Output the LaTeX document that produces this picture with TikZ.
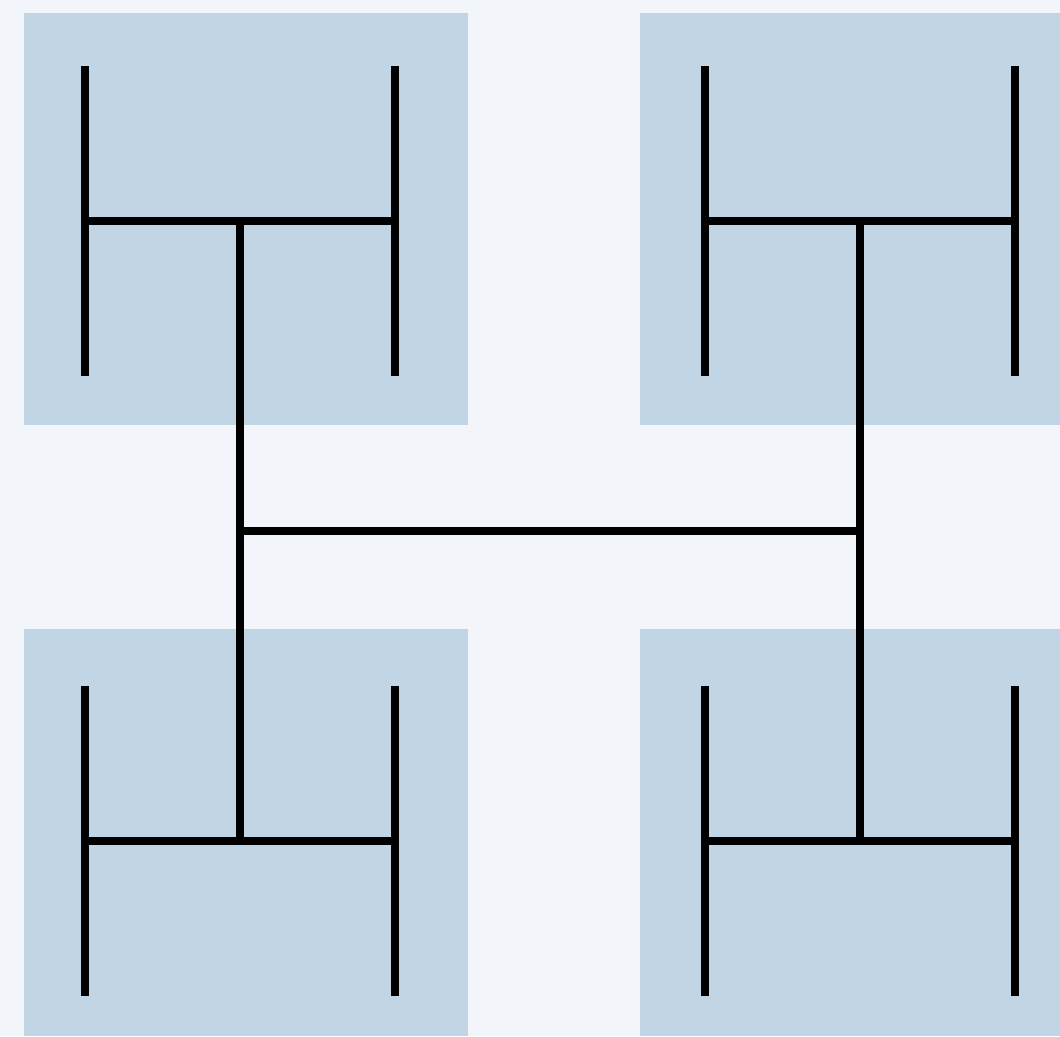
\documentclass[tikz,border=0pt]{standalone}
\definecolor{bgc}{HTML}{F2F6FA}
\definecolor{boxc}{HTML}{C2D5E4}
\begin{document}
\begin{tikzpicture}[x=1pt,y=-1pt,
  wire/.style={line width=8pt,line cap=butt,color=black},
  panel/.style={fill=boxc,draw=none}]
\fill[bgc] (0,0) rectangle (1060,1036);
\useasboundingbox (0,0) rectangle (1060,1036);
% panels
\fill[panel] (24,13) rectangle (468,425);
\fill[panel] (640,13) rectangle (1060,425);
\fill[panel] (24,629) rectangle (468,1036);
\fill[panel] (640,629) rectangle (1060,1036);
% centres of small H shapes
\coordinate (tl) at (240,221);
\coordinate (tr) at (860,221);
\coordinate (bl) at (240,841);
\coordinate (br) at (860,841);
\coordinate (ml) at (240,531);
\coordinate (mr) at (860,531);
% small H shapes
\foreach \c in {tl,tr,bl,br}{
  \draw[wire] ([xshift=-155pt]\c) -- ([xshift=155pt]\c);
  \draw[wire] ([xshift=-155pt,yshift=155pt]\c) -- ([xshift=-155pt,yshift=-155pt]\c);
  \draw[wire] ([xshift=155pt,yshift=155pt]\c) -- ([xshift=155pt,yshift=-155pt]\c);
}
% big H
\draw[wire] (tl) -- (bl);
\draw[wire] (tr) -- (br);
\draw[wire] (ml) -- (mr);
\end{tikzpicture}
\end{document}
